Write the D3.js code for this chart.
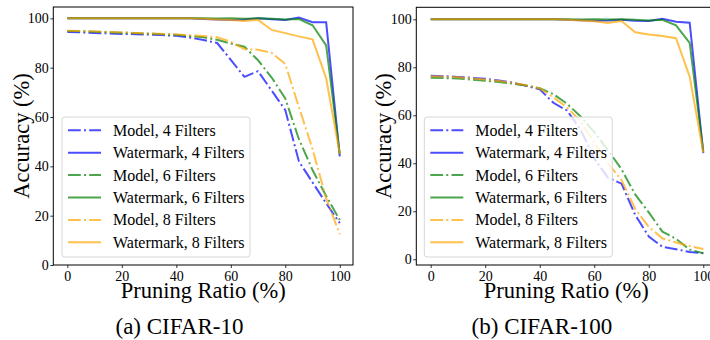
<!DOCTYPE html>
<html>
<head>
<meta charset="utf-8">
<script src="https://cdn.jsdelivr.net/npm/d3@7"></script>
<style>
  body { margin: 0; background: #fff; }
  svg text { font-family: "Liberation Serif", "DejaVu Serif", serif; fill: #000; }
</style>
</head>
<body>
<svg id="chart" width="710" height="340"></svg>
<script>
// pruning ratios (x values)
var ratios = [0,5,10,15,20,25,30,35,40,45,50,55,60,65,70,75,80,85,90,95,100];
var xTicks = [0,20,40,60,80,100];
var yTicks = [0,20,40,60,80,100];

// CIFAR-10
var c10Model4 = [94.5,94.3,94.1,93.9,93.7,93.6,93.4,93.2,92.9,92.2,91.2,90.0,83.2,76.3,78.6,70.7,62.8,42.0,33.5,25.0,17.0];
var c10Wm4    = [100,100,100,100,100,100,100,100,100,100,99.7,99.5,99.3,99.5,100,99.6,99.3,100.3,98.4,98.4,44.0];
var c10Model6 = [94.9,94.8,94.6,94.4,94.2,94.0,93.8,93.6,93.3,92.8,92.3,91.3,89.8,88.5,83.0,76.0,67.5,51.0,38.5,28.0,18.2];
var c10Wm6    = [100,100,100,100,100,100,100,100,100,100,100,99.9,100,99.8,100,99.8,99.5,99.7,97.2,89.0,45.0];
var c10Model8 = [95.0,94.9,94.7,94.5,94.3,94.1,93.9,93.7,93.5,93.1,92.8,92.3,90.5,87.5,87.3,86.0,81.5,64.0,47.0,27.0,12.5];
var c10Wm8    = [100,100,100,100,100,100,100,100,100,100,99.8,99.5,99.3,98.9,99.4,95.3,94.0,92.7,91.5,75.7,45.0];

// CIFAR-100
var c100Model4 = [76.5,76.3,76.0,75.6,75.2,74.5,73.6,72.3,70.8,65.2,62.0,54.0,42.0,34.0,31.5,18.5,9.5,5.2,4.2,3.0,2.5];
var c100Wm4    = [100,100,100,100,100,100,100,100,100,100,99.8,99.6,99.4,99.5,99.8,99.4,99.3,100.2,99.0,98.6,44.2];
var c100Model6 = [75.6,75.5,75.3,74.9,74.4,73.9,73.2,72.4,71.3,68.8,64.8,59.5,53.0,45.5,37.5,27.0,19.5,11.5,8.5,4.0,2.5];
var c100Wm6    = [100,100,100,100,100,100,100,100,100,100,100,99.9,100,99.9,100,99.8,99.5,99.8,97.5,90.2,45.0];
var c100Model8 = [76.3,76.1,75.8,75.4,74.9,74.3,73.5,72.5,71.2,67.5,63.3,57.5,48.5,40.0,33.0,21.0,13.5,8.7,7.0,5.5,4.3];
var c100Wm8    = [100,100,100,100,100,100,100,100,100,100,99.8,99.5,99.2,98.5,99.3,94.6,93.7,93.0,92.1,76.1,44.5];

var names = ["Model, 4 Filters","Watermark, 4 Filters","Model, 6 Filters","Watermark, 6 Filters","Model, 8 Filters","Watermark, 8 Filters"];
var colors = ["#0000ff","#0000ff","#008000","#008000","#ffa500","#ffa500"];
var dashed = [true,false,true,false,true,false];

var svg = d3.select("#chart");

function panel(opt) {
  var x = d3.scaleLinear().domain(opt.xdom).range([opt.left, opt.right]);
  var y = d3.scaleLinear().domain(opt.ydom).range([opt.bottom, opt.top]);
  var g = svg.append("g");

  g.append("clipPath").attr("id", opt.id + "clip")
    .append("rect").attr("x", opt.left).attr("y", opt.top)
    .attr("width", opt.right - opt.left).attr("height", opt.bottom - opt.top);

  var line = d3.line().x(function(d, i) { return x(ratios[i]); }).y(function(d) { return y(d); });

  var lines = g.append("g").attr("clip-path", "url(#" + opt.id + "clip)");
  opt.series.forEach(function(s, i) {
    lines.append("path")
      .attr("d", line(s))
      .attr("fill", "none")
      .attr("stroke", colors[i])
      .attr("stroke-opacity", 0.7)
      .attr("stroke-width", 2)
      .attr("stroke-dasharray", dashed[i] ? "12.8,3.2,2,3.2" : null);
  });

  // axes
  var xa = g.append("g").attr("transform", "translate(0," + opt.bottom + ")")
    .call(d3.axisBottom(x).tickValues(xTicks).tickSize(3).tickPadding(3).tickSizeOuter(0));
  var ya = g.append("g").attr("transform", "translate(" + opt.left + ",0)")
    .call(d3.axisLeft(y).tickValues(yTicks).tickSize(3).tickPadding(1.5).tickSizeOuter(0));
  [xa, ya].forEach(function(a) {
    a.select(".domain").remove();
    a.selectAll("text").style("font-size", "14px").style("font-family", "Liberation Serif");
    a.selectAll("line").attr("stroke", "#000").attr("stroke-width", 0.8);
  });

  g.append("rect").attr("x", opt.left).attr("y", opt.top)
    .attr("width", opt.right - opt.left).attr("height", opt.bottom - opt.top)
    .attr("fill", "none").attr("stroke", "#000").attr("stroke-width", 1);

  // legend
  var lg = g.append("g").attr("transform", "translate(" + opt.legX + ",117)");
  lg.append("rect").attr("width", 188).attr("height", 140).attr("rx", 3)
    .attr("fill", "#fff").attr("fill-opacity", 0.8)
    .attr("stroke", "#d6d6d6").attr("stroke-width", 1);
  names.forEach(function(n, i) {
    var yy = 13.3 + i * 22.4;
    lg.append("line").attr("x1", 6).attr("x2", 39).attr("y1", yy).attr("y2", yy)
      .attr("stroke", colors[i]).attr("stroke-opacity", 0.7).attr("stroke-width", 2)
      .attr("stroke-dasharray", dashed[i] ? "12.8,3.2,2,3.2" : null);
    lg.append("text").attr("x", 51).attr("y", yy + 5.5)
      .style("font-size", "16px").text(n);
  });

  var cx = (opt.left + opt.right) / 2;
  g.append("text").attr("x", cx).attr("y", 298).attr("text-anchor", "middle")
    .style("font-size", "22.5px").text("Pruning Ratio (%)");
  g.append("text").attr("transform", "translate(" + opt.ylabX + "," + ((opt.top + opt.bottom) / 2) + ") rotate(-90)")
    .attr("text-anchor", "middle").style("font-size", "22.5px").text("Accuracy (%)");
  g.append("text").attr("x", opt.capX).attr("y", 334).attr("text-anchor", "middle")
    .style("font-size", "23px").text(opt.caption);
}

panel({
  id: "a", left: 53.3, right: 353, top: 7, bottom: 265,
  xdom: [-5.15, 104.85], ydom: [0, 104.6],
  series: [c10Model4, c10Wm4, c10Model6, c10Wm6, c10Model8, c10Wm8],
  legX: 62, ylabX: 29, capX: 179.5, caption: "(a) CIFAR-10"
});

panel({
  id: "b", left: 416.3, right: 716, top: 7.3, bottom: 265,
  xdom: [-5.28, 104.66], ydom: [-2.4, 105],
  series: [c100Model4, c100Wm4, c100Model6, c100Wm6, c100Model8, c100Wm8],
  legX: 424.3, ylabX: 391, capX: 542, caption: "(b) CIFAR-100"
});
</script>
</body>
</html>
